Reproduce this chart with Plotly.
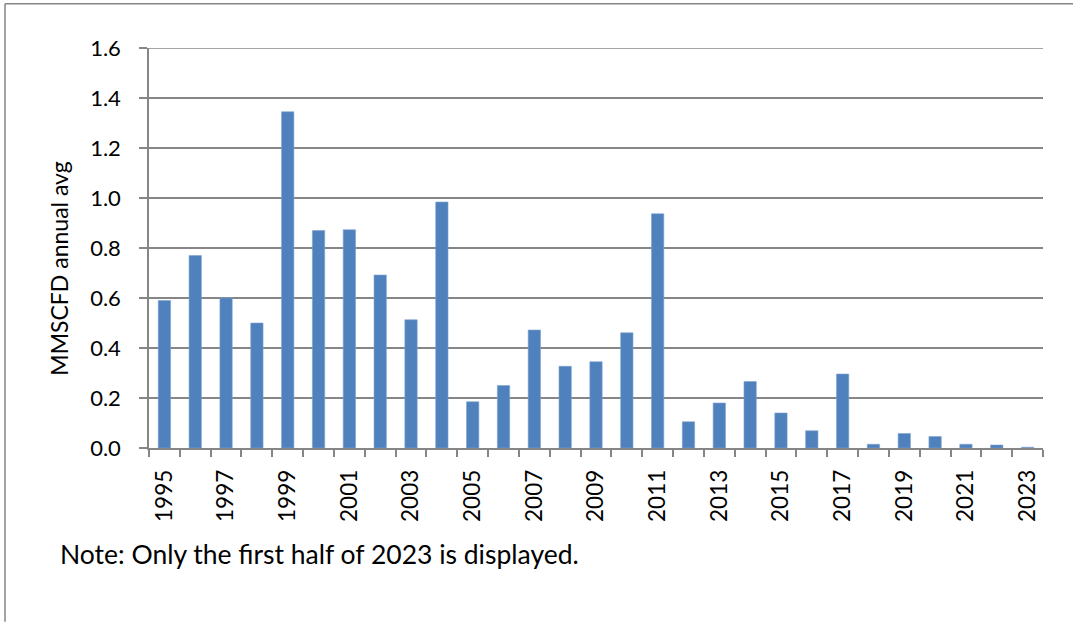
import plotly.graph_objects as go

years = list(range(1995, 2024))
values = [0.59, 0.77, 0.60, 0.50, 1.345, 0.87, 0.873, 0.692, 0.513, 0.984,
          0.185, 0.25, 0.472, 0.327, 0.345, 0.461, 0.937, 0.105, 0.18, 0.266,
          0.14, 0.069, 0.296, 0.015, 0.058, 0.046, 0.015, 0.012, 0.003]
label_years = [y for y in years if y % 2 == 1]
label_text = [str(y) for y in label_years]
y_ticks = [0.0, 0.2, 0.4, 0.6, 0.8, 1.0, 1.2, 1.4, 1.6]

W, H = 1073, 622
L, R, T, B = 149, 1043, 48.3, 448.3

def px(xp):
    return (xp - L) / (R - L)

def py(yp):
    return (B - yp) / (B - T)

FONT = "Lato"
GRID = "#868686"

fig = go.Figure()
fig.add_trace(go.Bar(
    x=years, y=values,
    marker=dict(color="#4F81BD", line=dict(color="#7FA3D0", width=0.6)),
    width=0.4,
))

fig.update_layout(
    width=W, height=H,
    margin=dict(l=L, r=W - R, t=T, b=H - B),
    paper_bgcolor="white", plot_bgcolor="white",
    showlegend=False,
    font=dict(family=FONT, size=22, color="#000000"),
    xaxis=dict(
        range=[1994.5, 2023.5],
        tickmode="array", tickvals=label_years, ticktext=label_text,
        tickangle=-90, ticks="", ticklabelstandoff=11,
        showgrid=False, zeroline=False,
        showline=True, linecolor=GRID, linewidth=1.5,
        minor=dict(tickmode="linear", tick0=1994.5, dtick=1, ticks="outside",
                   ticklen=7, tickcolor=GRID, tickwidth=1.5, showgrid=False),
        tickfont=dict(family=FONT, size=22.5),
    ),
    yaxis=dict(
        range=[0, 1.6], tickmode="array", tickvals=y_ticks,
        tickformat=".1f", ticks="outside", ticklen=8, tickcolor=GRID,
        tickwidth=1.5, ticklabelstandoff=14,
        showgrid=True, gridcolor=GRID, gridwidth=1.5,
        zeroline=False, showline=True, linecolor=GRID, linewidth=1.5,
        tickfont=dict(family=FONT, size=22),
    ),
    annotations=[
        dict(text="MMSCFD annual avg", xref="paper", yref="paper",
             x=px(59), y=py(269), textangle=-90, showarrow=False,
             xanchor="center", yanchor="middle",
             font=dict(family=FONT, size=23)),
        dict(text="Note: Only the first half of 2023 is displayed.",
             xref="paper", yref="paper", x=px(58), y=py(554),
             showarrow=False, xanchor="left", yanchor="middle",
             font=dict(family=FONT, size=26.5)),
    ],
    shapes=[
        dict(type="line", xref="paper", yref="y", x0=0, x1=1,
             y0=y_ticks[-1], y1=y_ticks[-1], line=dict(color=GRID, width=1.5)),
        dict(type="line", xref="paper", yref="paper", x0=px(5), x1=px(1073),
             y0=py(4), y1=py(4), line=dict(color=GRID, width=1.5)),
        dict(type="line", xref="paper", yref="paper", x0=px(5), x1=px(5),
             y0=py(4), y1=py(622), line=dict(color=GRID, width=1.5)),
    ],
)

fig.write_html("out.html",
               config={"displayModeBar": False},
               post_script="document.body.style.margin='0';document.body.style.overflow='hidden';")
